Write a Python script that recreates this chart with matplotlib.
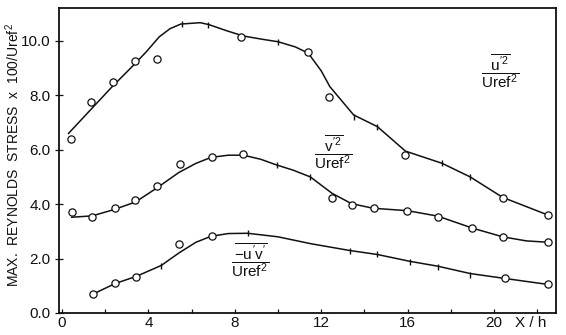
#!/usr/bin/env python3
"""Redraw the max. Reynolds stress distributions along X/h (scanned line chart)."""

import matplotlib

matplotlib.use("Agg")
import matplotlib.pyplot as plt

# u'^2 / Uref^2 : faired curve, clear circles, faint (tick-like) points
u2_curve_x = [0.3, 1.3, 2.3, 3.4, 3.9, 4.5, 5.0, 5.5, 6.4, 6.8, 7.6, 8.4, 9.2, 10.0,
              10.8, 11.4, 12.0, 12.4, 13.5, 14.6, 15.9, 17.6, 18.9, 20.4, 22.5]
u2_curve_y = [6.6, 7.45, 8.3, 9.18, 9.6, 10.15, 10.45, 10.62, 10.67, 10.6, 10.38, 10.18,
              10.07, 9.97, 9.78, 9.55, 8.9, 8.32, 7.28, 6.85, 5.95, 5.5, 5.0, 4.25, 3.6]
u2_circle_x = [0.40, 1.33, 2.35, 3.38, 4.41, 8.3, 11.4, 12.36, 15.88, 20.43, 22.51]
u2_circle_y = [6.41, 7.77, 8.50, 9.26, 9.33, 10.15, 9.6, 7.93, 5.81, 4.24, 3.60]
u2_tick_x = [5.54, 6.76, 9.98, 13.52, 14.57, 17.58, 18.89]
u2_tick_y = [10.62, 10.59, 9.97, 7.22, 6.85, 5.50, 5.01]

# v'^2 / Uref^2
v2_curve_x = [0.45, 1.4, 2.4, 3.4, 4.4, 5.4, 6.2, 6.9, 7.7, 8.4, 9.2, 9.9, 10.7, 11.5,
              12.0, 12.5, 13.4, 14.4, 16.0, 17.4, 19.0, 20.4, 21.5, 22.5]
v2_curve_y = [3.52, 3.57, 3.8, 4.08, 4.6, 5.16, 5.5, 5.72, 5.8, 5.8, 5.65, 5.45, 5.25, 5.0,
              4.7, 4.4, 4.02, 3.85, 3.76, 3.56, 3.12, 2.8, 2.65, 2.6]
v2_circle_x = [0.45, 1.37, 2.45, 3.38, 4.41, 5.46, 6.93, 8.39, 12.49, 13.41, 14.45,
               15.96, 17.42, 18.97, 20.43, 22.51]
v2_circle_y = [3.72, 3.54, 3.87, 4.15, 4.67, 5.48, 5.75, 5.85, 4.22, 3.97, 3.85,
               3.76, 3.54, 3.11, 2.78, 2.62]
v2_tick_x = [9.94, 11.48]
v2_tick_y = [5.44, 5.01]

# -u'v' / Uref^2
uv_curve_x = [1.45, 2.45, 3.45, 4.6, 5.4, 6.2, 6.9, 7.7, 8.6, 10.0, 11.5, 13.3, 14.6,
              16.1, 17.4, 18.9, 20.5, 22.5]
uv_curve_y = [0.7, 1.08, 1.35, 1.75, 2.2, 2.6, 2.82, 2.92, 2.93, 2.8, 2.55, 2.3, 2.15,
              1.9, 1.72, 1.45, 1.27, 1.05]
uv_circle_x = [1.45, 2.45, 3.43, 5.42, 6.93, 20.51, 22.49]
uv_circle_y = [0.69, 1.11, 1.34, 2.52, 2.83, 1.27, 1.05]
uv_tick_x = [4.58, 8.63, 13.33, 14.57, 16.11, 17.42, 18.89]
uv_tick_y = [1.73, 2.93, 2.29, 2.16, 1.89, 1.70, 1.40]

x_ticks = [0, 4, 8, 12, 16, 20]
y_ticks = [0, 2, 4, 6, 8, 10]
y_tick_labels = ["0.0", "2.0", "4.0", "6.0", "8.0", "10.0"]

# curve labels: (text, x centre, y centre) in data units
curve_labels = [
    (r"$\dfrac{\overline{u'^2}}{Uref^2}$", 20.3, 8.9),
    (r"$\dfrac{\overline{v'^2}}{Uref^2}$", 12.55, 5.9),
    (r"$\dfrac{\overline{-u'v'}}{Uref^2}$", 8.7, 1.95),
]


def main() -> int:
    plt.rcParams["font.family"] = ["Liberation Sans", "DejaVu Sans"]
    plt.rcParams["mathtext.fontset"] = "custom"
    plt.rcParams["mathtext.rm"] = "Liberation Sans"
    plt.rcParams["mathtext.it"] = "Liberation Sans"
    plt.rcParams["mathtext.bf"] = "Liberation Sans:bold"

    fig = plt.figure(figsize=(5.66, 3.35), dpi=100)
    ax = fig.add_axes([59 / 566, 1 - 313 / 335, (556 - 59) / 566, (313 - 8) / 335])

    ink = "#111111"
    series = [
        (u2_curve_x, u2_curve_y, u2_circle_x, u2_circle_y, u2_tick_x, u2_tick_y),
        (v2_curve_x, v2_curve_y, v2_circle_x, v2_circle_y, v2_tick_x, v2_tick_y),
        (uv_curve_x, uv_curve_y, uv_circle_x, uv_circle_y, uv_tick_x, uv_tick_y),
    ]
    for cx, cy, ox, oy, tx, ty in series:
        ax.plot(cx, cy, color=ink, lw=1.1, solid_joinstyle="round")
        ax.plot(ox, oy, ls="none", marker="o", ms=5.2, mfc="white", mec=ink, mew=0.9)
        ax.plot(tx, ty, ls="none", marker="|", ms=5, mec=ink, mew=1.0)

    for text, x, y in curve_labels:
        ax.text(x, y, text, ha="center", va="center", fontsize=11, color=ink)

    ax.set_xlim(-0.14, 22.87)
    ax.set_ylim(0, 11.21)
    ax.set_xticks(x_ticks)
    ax.set_xticks(range(0, 23, 2), minor=True)
    ax.set_yticks(y_ticks)
    ax.set_yticklabels(y_tick_labels)
    ax.tick_params(axis="x", which="both", direction="in", length=3, width=0.9,
                   labelsize=11, pad=2, colors=ink)
    ax.tick_params(axis="y", direction="inout", length=6, width=0.9,
                   labelsize=11, pad=3, colors=ink)
    for spine in ax.spines.values():
        spine.set_linewidth(1.3)
        spine.set_color(ink)

    ax.annotate("X / h", xy=(21.7, 0), xycoords=("data", "axes fraction"),
                xytext=(0, -2), textcoords="offset points", ha="center", va="top",
                fontsize=11, color=ink)
    ax.set_ylabel(r"MAX.  REYNOLDS  STRESS  x  100/$Uref^2$", fontsize=10, color=ink)
    ax.yaxis.set_label_coords(-0.074, 0.52)

    fig.savefig("out.png", dpi=100)
    plt.close(fig)
    return 0


if __name__ == "__main__":
    raise SystemExit(main())
